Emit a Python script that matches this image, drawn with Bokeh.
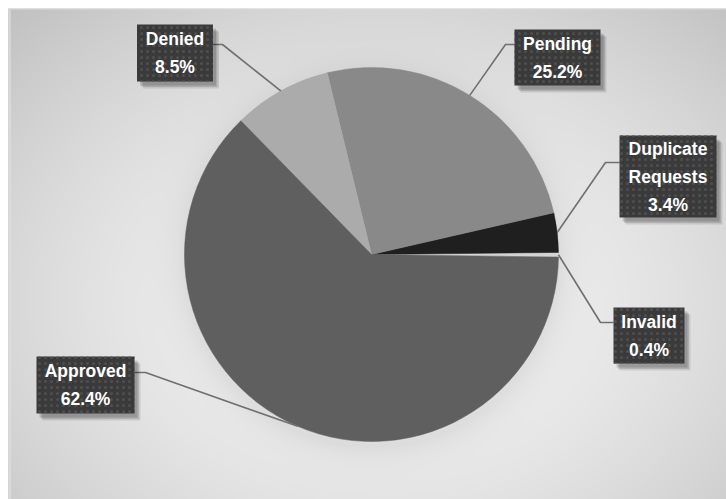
import numpy as np
from bokeh.plotting import figure
from bokeh.models import Range1d, ColumnDataSource
from bokeh.embed import file_html
from bokeh.resources import INLINE
from bokeh.core.properties import value

# ---- data ----
categories = ["Invalid", "Duplicate Requests", "Pending", "Denied", "Approved"]
label_names = ["Invalid", "Duplicate\nRequests", "Pending", "Denied", "Approved"]
shares = [0.4, 3.4, 25.2, 8.5, 62.4]
colors = ["#d4d4d4", "#1f1f1f", "#898989", "#ababab", "#5f5f5f"]
start_deg = -0.8

# ---- layout (page pixel coords, y from top) ----
W, H = 726, 499
M = 8  # chart area offset
CX, CY, R = 371, 254, 187
# box center x, center y, width, height, knee x, knee y
boxes = {
    "Invalid": (648.5, 335, 71, 56, 600, 322),
    "Duplicate Requests": (667.5, 176, 97, 82, 605, 162),
    "Pending": (557, 57, 86, 56, 505, 44),
    "Denied": (174.5, 52.5, 76, 57, 222, 44),
    "Approved": (85, 384.5, 98, 57, 145, 372),
}

def fy(y):
    return H - y

# ---- background gradient + pie shadow ----
AW, AH = W - M, H - M
yy, xx = np.mgrid[0:AH, 0:AW].astype(float)
xx += M
yy += M
r = np.sqrt(((xx - 380) / 430.0) ** 2 + ((yy - 300) / 330.0) ** 2)
g = 246 - 38 * np.clip(r, 0, 1.25) ** 1.6
d = np.sqrt((xx - CX) ** 2 + (yy - (CY + 5)) ** 2) - R
g -= 15 * np.exp(-np.clip(d, 0, None) / 16.0)
g = np.clip(g, 0, 255).astype(np.uint8)[::-1]
img = np.empty((AH, AW), dtype=np.uint32)
view = img.view(dtype=np.uint8).reshape((AH, AW, 4))
view[:, :, 0] = g
view[:, :, 1] = g
view[:, :, 2] = g
view[:, :, 3] = 255

p = figure(width=W, height=H, output_backend="svg", toolbar_location=None,
           x_range=Range1d(0, W), y_range=Range1d(0, H), min_border=0)
p.axis.visible = False
p.grid.visible = False
p.outline_line_color = None
p.background_fill_color = "white"
p.border_fill_color = "white"

p.image_rgba(image=[img], x=M, y=0, dw=AW, dh=AH)
p.line(x=[M + 0.5, M + 0.5], y=[0, fy(M)], line_color="#c4c4c4", line_width=1)
p.line(x=[M + 1.5, M + 1.5], y=[0, fy(M + 1)], line_color="#e6e6e6", line_width=1)
p.line(x=[M, W], y=[fy(M + 0.5), fy(M + 0.5)], line_color="#dcdcdc", line_width=1)

# ---- pie ----
ang = np.array(shares) / sum(shares) * 360.0
ends = start_deg + np.cumsum(ang)
starts = ends - ang
src = ColumnDataSource(dict(cat=categories, start=np.radians(starts),
                            end=np.radians(ends), color=colors))
p.wedge(x=CX, y=fy(CY), radius=R, start_angle="start", end_angle="end",
        direction="anticlock", fill_color="color",
        line_color="color", line_width=0.5, source=src)

# ---- leaders + labels ----
lx, ly = [], []
bx, by, bw, bh, texts = [], [], [], [], []
for cat, name, s, a0, a1 in zip(categories, label_names, shares, starts, ends):
    cxb, cyb, w, h, kx, ky = boxes[cat]
    mid = np.radians((a0 + a1) / 2)
    ex = CX + R * np.cos(mid)
    ey = CY - R * np.sin(mid)
    edge_x = cxb - w / 2 if kx < cxb else cxb + w / 2
    lx.append([edge_x, kx, ex])
    ly.append([fy(ky), fy(ky), fy(ey)])
    bx.append(cxb); by.append(fy(cyb)); bw.append(w); bh.append(h)
    texts.append(f"{name}\n{s}%")

p.multi_line(xs=lx, ys=ly, line_color="#707070", line_width=1.6)

for k, al in ((6, 0.10), (4.5, 0.12), (3, 0.14)):
    p.rect(x=[x + k for x in bx], y=[y - k - 1 for y in by], width=bw, height=bh,
           fill_color="black", fill_alpha=al, line_color=None)

p.rect(x=bx, y=by, width=bw, height=bh, fill_color="#3a3a3a", line_color=None,
       hatch_pattern="dot", hatch_color="#4f4f4f", hatch_scale=6, hatch_weight=1)

p.text(x=bx, y=by, text=texts, text_align="center", text_baseline="middle",
       text_font=value("Liberation Sans"), text_font_style="bold",
       text_font_size="17.5px", text_color="white", text_line_height=1.4)

open("out.html", "w").write(file_html(p, INLINE))
